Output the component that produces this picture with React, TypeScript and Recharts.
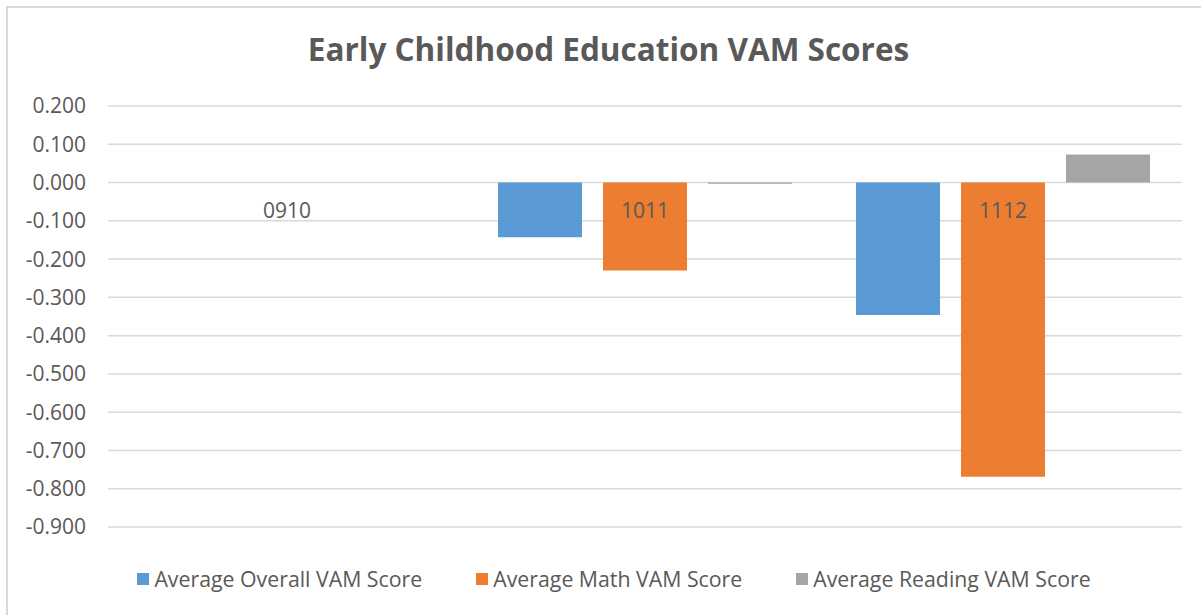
import { Bar, BarChart, CartesianGrid, ReferenceDot, XAxis, YAxis } from "recharts";

const categories = ["0910", "1011", "1112"];
const overallScores = [null, -0.143, -0.346];
const mathScores = [null, -0.23, -0.769];
const readingScores = [null, -0.003, 0.073];
const yTicks = [0.2, 0.1, 0, -0.1, -0.2, -0.3, -0.4, -0.5, -0.6, -0.7, -0.8, -0.9];

const seriesList = [
  { key: "overall", name: "Average Overall VAM Score", color: "#5B9BD5" },
  { key: "math", name: "Average Math VAM Score", color: "#ED7D31" },
  { key: "reading", name: "Average Reading VAM Score", color: "#A5A5A5" },
];

const data = categories.map((cat, i) => ({
  cat,
  overall: overallScores[i],
  math: mathScores[i],
  reading: readingScores[i],
}));

const font = "'Open Sans', sans-serif";
const textColor = "#595959";

export default function App() {
  return (
    <div style={{ position: "absolute", left: 0, top: 0, width: 1201, height: 615, background: "#fff", fontFamily: font, overflow: "hidden" }}>
      <div style={{ position: "absolute", left: 6, top: 6, width: 1220, height: 640, border: "2px solid #d9d9d9" }} />
      <div style={{ position: "absolute", left: 0, top: 27, width: 1217, textAlign: "center", fontSize: 31.5, fontWeight: 700, color: textColor }}>
        Early Childhood Education VAM Scores
      </div>
      <div style={{ position: "absolute", left: 0, top: 0 }}>
        <BarChart width={1201} height={615} data={data} margin={{ top: 106, right: 19, bottom: 88, left: 0 }} barSize={84} barGap={21}>
          <CartesianGrid vertical={false} stroke="#d9d9d9" strokeWidth={1.5} />
          <XAxis dataKey="cat" hide />
          <YAxis
            width={108}
            domain={[-0.9, 0.2]}
            ticks={yTicks}
            interval={0}
            axisLine={false}
            tickLine={false}
            tickMargin={16}
            tickFormatter={(v: number) => v.toFixed(3)}
            tick={{ fill: textColor, fontSize: 21, fontFamily: font }}
          />
          {seriesList.map((s) => (
            <Bar key={s.key} dataKey={s.key} name={s.name} fill={s.color} isAnimationActive={false} />
          ))}
          {categories.map((c) => (
            <ReferenceDot
              key={c}
              x={c}
              y={0}
              r={0}
              fill="none"
              stroke="none"
              label={{ value: c, position: "bottom", offset: 21, fill: textColor, fontSize: 21, fontFamily: font }}
            />
          ))}
        </BarChart>
      </div>
      <div style={{ position: "absolute", left: 0, top: 564, width: 1228, display: "flex", justifyContent: "center", gap: 54, fontSize: 21.3, color: textColor }}>
        {seriesList.map((s) => (
          <div key={s.key} style={{ display: "flex", alignItems: "center" }}>
            <span style={{ display: "inline-block", width: 12, height: 12, background: s.color, marginRight: 5 }} />
            <span>{s.name}</span>
          </div>
        ))}
      </div>
    </div>
  );
}
